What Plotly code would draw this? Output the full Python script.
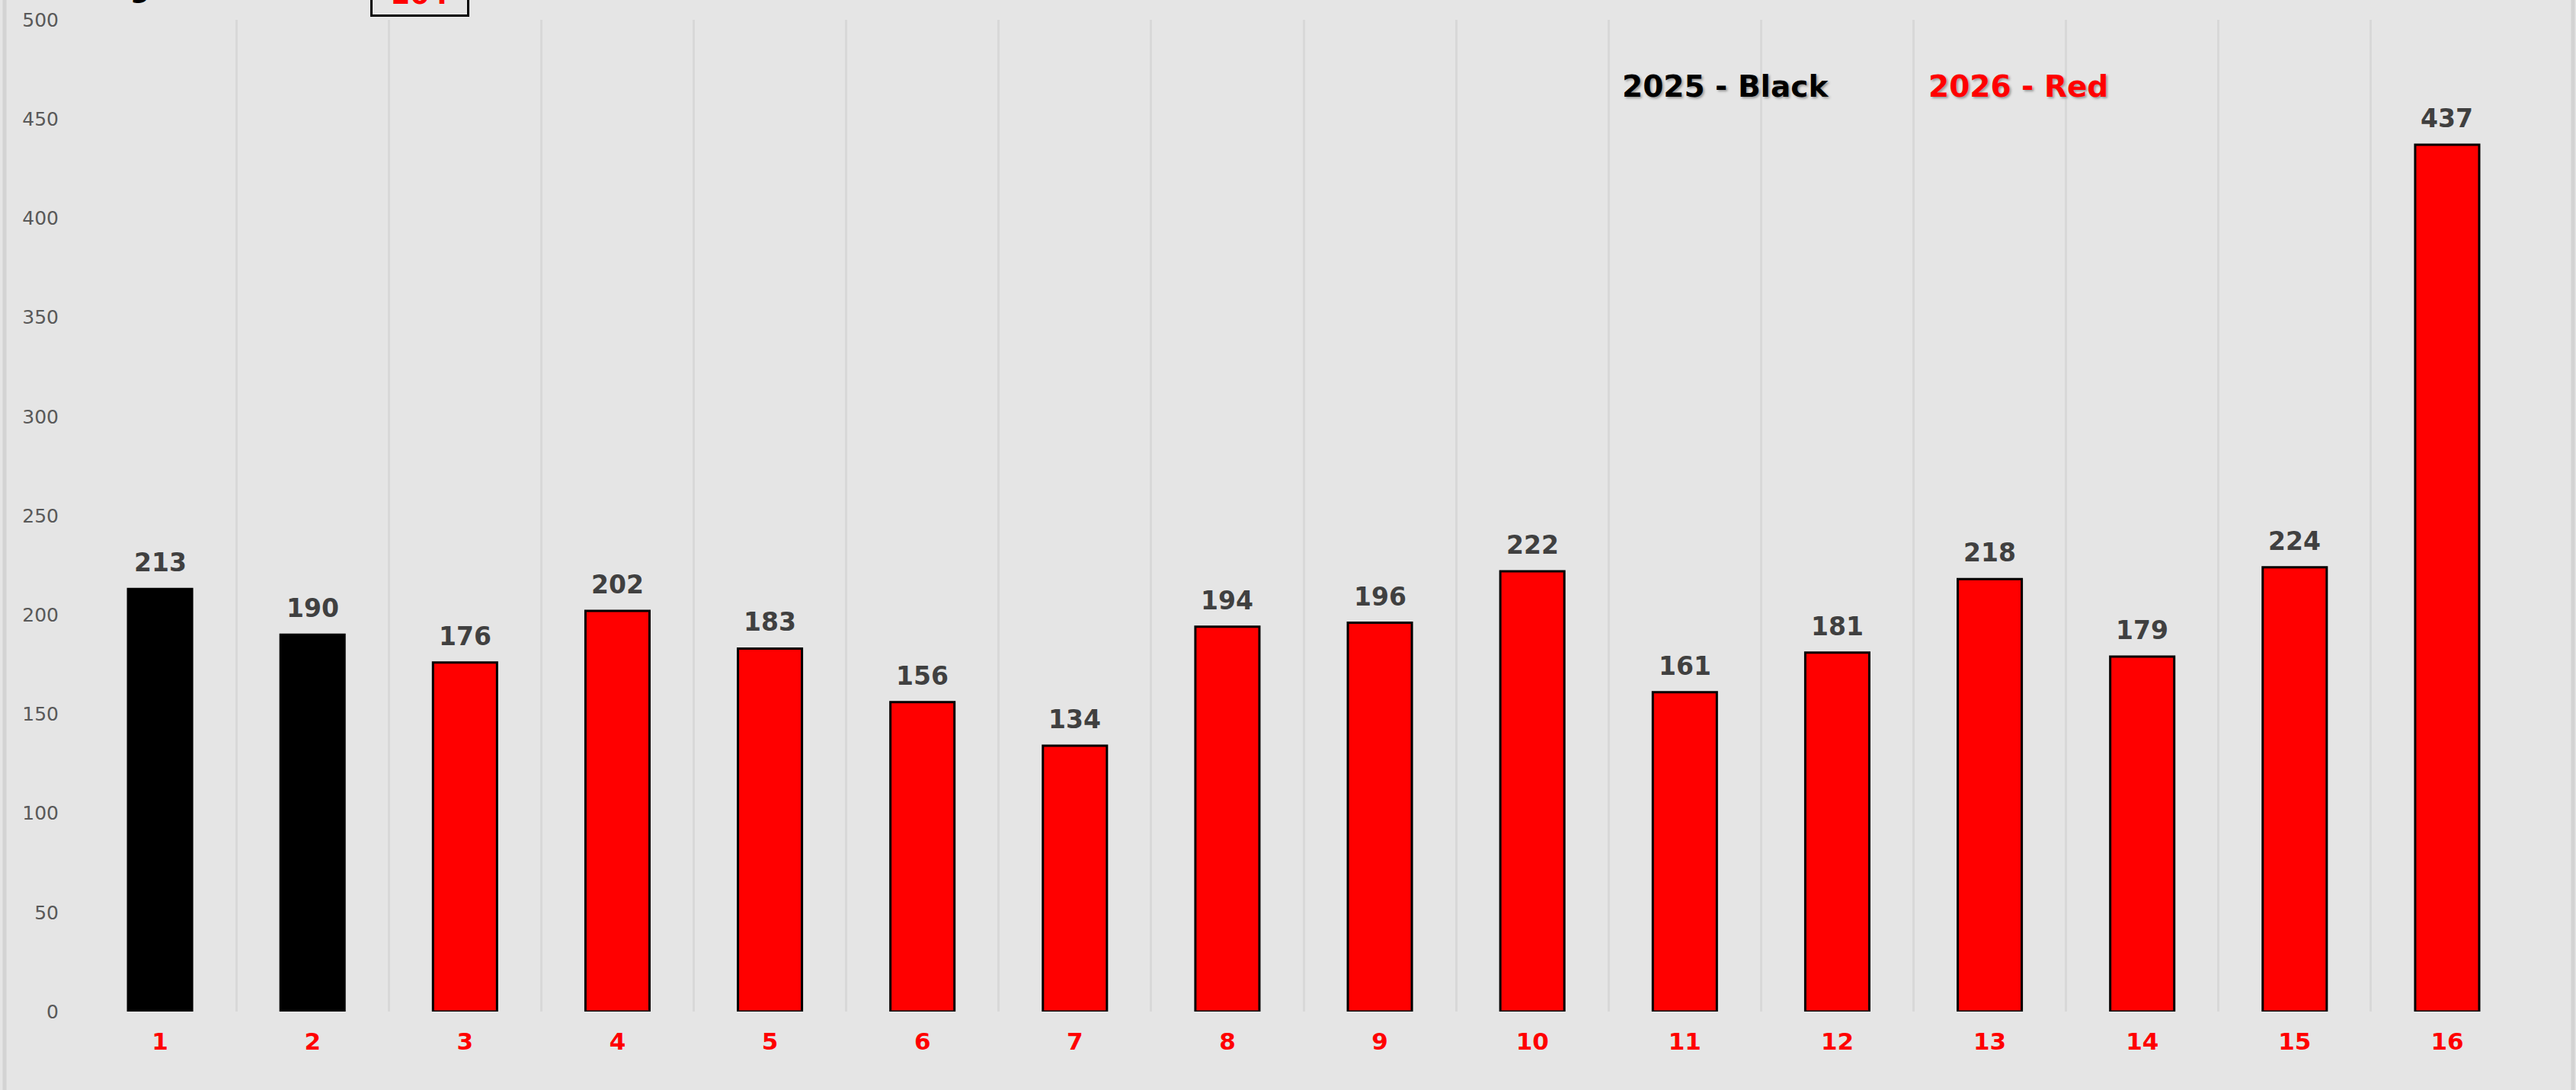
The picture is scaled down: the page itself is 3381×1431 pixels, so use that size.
import plotly.graph_objects as go

categories = [str(i) for i in range(1, 17)]
values = [213, 190, 176, 202, 183, 156, 134, 194, 196, 222, 161, 181, 218, 179, 224, 437]
years = ["2025", "2025"] + ["2026"] * 14
year_colors = {"2025": "#000000", "2026": "#ff0000"}
legend_labels = ["2025 - Black", "2026 - Red"]
title_text = "Average"

W, H = 3381, 1431
L, R, T, B = 110, 69, 22, 103
pw, ph = W - L - R, H - T - B

def px(x):
    return (x - L) / pw

def py(y):
    return (H - B - y) / ph

idx = list(range(len(categories)))

fig = go.Figure()
fig.add_trace(go.Bar(
    x=idx, y=values,
    marker=dict(color=[year_colors[y] for y in years],
                line=dict(color="#000000", width=3)),
    hoverinfo="y",
))

FONT = "DejaVu Sans"
annotations = []
for i, v in zip(idx, values):
    annotations.append(dict(x=i, y=v, xref="x", yref="y", text=str(v),
                            showarrow=False, yanchor="bottom", yshift=13,
                            font=dict(family=FONT, size=33, color="#404040", weight="bold")))

avg = round(sum(values) / len(values))
annotations.append(dict(xref="paper", yref="paper", x=px(2264), y=py(110),
                        xanchor="center", yanchor="middle",
                        text=legend_labels[0], showarrow=False,
                        font=dict(family=FONT, size=39, color="#000000", weight="bold",
                                  shadow="2px 2px 3px #999999")))
annotations.append(dict(xref="paper", yref="paper", x=px(2649), y=py(110),
                        xanchor="center", yanchor="middle",
                        text=legend_labels[1], showarrow=False,
                        font=dict(family=FONT, size=39, color="#ff0000", weight="bold",
                                  shadow="2px 2px 3px #999999")))
annotations.append(dict(xref="paper", yref="paper", x=px(52), y=py(3),
                        xanchor="left", yanchor="bottom",
                        text=title_text, showarrow=False,
                        font=dict(family=FONT, size=36, color="#000000", weight="bold")))
annotations.append(dict(xref="paper", yref="paper", x=px(551), y=py(18),
                        xanchor="center", yanchor="bottom",
                        text=str(avg), showarrow=False, width=124, height=54,
                        bordercolor="#000000", borderwidth=3, borderpad=0,
                        font=dict(family=FONT, size=36, color="#ff0000", weight="bold")))

shapes = [
    dict(type="line", xref="paper", yref="paper", x0=px(6), x1=px(6), y0=-0.2, y1=1.2,
         line=dict(color="#d3d3d3", width=5)),
    dict(type="line", xref="paper", yref="paper", x0=px(3377), x1=px(3377), y0=-0.2, y1=1.2,
         line=dict(color="#d3d3d3", width=5)),
]

fig.update_layout(
    width=W, height=H,
    margin=dict(l=L, r=R, t=T, b=B, pad=0),
    paper_bgcolor="#e5e5e5", plot_bgcolor="#e5e5e5",
    bargap=0.58, showlegend=False,
    annotations=annotations, shapes=shapes,
    xaxis=dict(tickmode="array", tickvals=idx, ticktext=categories,
               range=[-0.5, len(idx) - 0.5], showgrid=False,
               ticks="", showline=False, zeroline=False, ticklabelstandoff=18,
               minor=dict(tickmode="array", tickvals=[i - 0.5 for i in idx] + [len(idx) - 0.5],
                          showgrid=True, gridcolor="#d8d8d8", gridwidth=3, ticks=""),
               tickfont=dict(family=FONT, size=31, color="#ff0000", weight="bold")),
    yaxis=dict(range=[0, 500], dtick=50, showgrid=False, zeroline=False,
               showline=False, ticks="", ticklabelstandoff=32,
               tickfont=dict(family=FONT, size=25, color="#595959")),
)

fig.write_html("out.html", config={"displayModeBar": False},
               post_script="document.body.style.margin='0';document.body.style.overflow='hidden';")
